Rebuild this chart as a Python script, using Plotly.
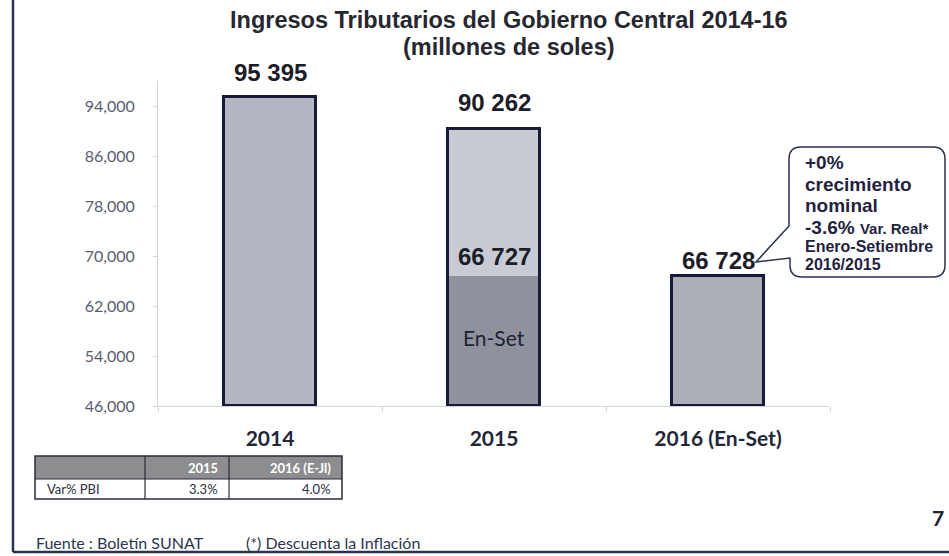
import plotly.graph_objects as go

# ---------------- data ----------------
categories = ["2014", "2015", "2016 (En-Set)"]
totals = [95395, 90262, 66728]
enset_2015 = 66727
enset_label = "En-Set"
y_ticks = [46000, 54000, 62000, 70000, 78000, 86000, 94000]
y_floor = 46000
y_top = 98000

table_header = ["", "2015", "2016 (E-Jl)"]
table_row_label = "Var% PBI"
pbi_var = [3.3, 4.0]

title_line1 = "Ingresos Tributarios del Gobierno Central 2014-16"
title_line2 = "(millones de soles)"
callout_big = ["+0%", "crecimiento", "nominal"]
callout_mixed = ("-3.6% ", "Var. Real*")
callout_small = ["Enero-Setiembre", "2016/2015"]
footer_source = "Fuente : Boletín SUNAT"
footer_note = "(*) Descuenta la Inflación"
page_number = "7"

# ---------------- styling ----------------
W, H = 949, 556
ARIAL = "Liberation Sans, Arial, sans-serif"
CAL = "Lato, Carlito, Calibri, sans-serif"
NAVY = "#151b38"
TXT = "#1c1d28"


def px(x):
    return x / W


def py(y):
    return 1 - y / H


def fmt(v):
    return f"{v:,}".replace(",", " ")


fig = go.Figure()

bar_colors = ["#b4b7c1", "#c8cbd4", "#acafb8"]
bar_width = 0.41

fig.add_trace(go.Bar(
    x=categories, y=[v - y_floor for v in totals], base=y_floor,
    width=bar_width, marker=dict(color=bar_colors, line=dict(width=0)),
    customdata=totals, hovertemplate="%{x}: %{customdata:,}<extra></extra>",
    showlegend=False,
))
fig.add_trace(go.Bar(
    x=[categories[1]], y=[enset_2015 - y_floor], base=y_floor,
    width=bar_width, marker=dict(color="#8f929c", line=dict(width=0)),
    customdata=[enset_2015], hovertemplate="En-Set: %{customdata:,}<extra></extra>",
    showlegend=False,
))
fig.add_trace(go.Bar(
    x=categories, y=[v - y_floor for v in totals], base=y_floor,
    width=bar_width, marker=dict(color="rgba(0,0,0,0)", line=dict(color=NAVY, width=3)),
    hoverinfo="skip", showlegend=False,
))

annotations = []
# value labels above bars (category index used as x position)
label_shift = [9, 11, 0]
for i, (v, s) in enumerate(zip(totals, label_shift)):
    annotations.append(dict(
        x=i, y=v, xref="x", yref="y", text=f"<b>{fmt(v)}</b>", showarrow=False,
        yanchor="bottom", yshift=s, font=dict(family=ARIAL, size=24, color=TXT),
    ))
annotations.append(dict(
    x=1, y=enset_2015, xref="x", yref="y", text=f"<b>{fmt(enset_2015)}</b>",
    showarrow=False, yanchor="bottom", yshift=4, font=dict(family=ARIAL, size=24, color=TXT),
))
annotations.append(dict(
    x=1, y=(y_floor + enset_2015) / 2, xref="x", yref="y", text=enset_label,
    showarrow=False, yanchor="middle", yshift=4, font=dict(family=CAL, size=21, color="#1f2235"),
))

# title
annotations.append(dict(x=px(509), y=py(20), xref="paper", yref="paper", text=f"<b>{title_line1}</b>",
                        showarrow=False, xanchor="center", yanchor="middle",
                        font=dict(family=ARIAL, size=23.5, color="#26272f")))
annotations.append(dict(x=px(509), y=py(47), xref="paper", yref="paper", text=f"<b>{title_line2}</b>",
                        showarrow=False, xanchor="center", yanchor="middle",
                        font=dict(family=ARIAL, size=23.5, color="#26272f")))

# callout text
CALL = "#1f2340"
big_y = [163, 185, 206]
for t, yy in zip(callout_big, big_y):
    annotations.append(dict(x=px(803), y=py(yy), xref="paper", yref="paper", text=f"<b>{t}</b>",
                            showarrow=False, xanchor="left", yanchor="middle",
                            font=dict(family=ARIAL, size=19, color=CALL)))
annotations.append(dict(x=px(803), y=py(227), xref="paper", yref="paper",
                        text=f"<b>{callout_mixed[0]}<span style='font-size:15px'>{callout_mixed[1]}</span></b>",
                        showarrow=False, xanchor="left", yanchor="middle",
                        font=dict(family=ARIAL, size=19, color=CALL)))
for t, yy in zip(callout_small, [246, 265]):
    annotations.append(dict(x=px(803), y=py(yy), xref="paper", yref="paper", text=f"<b>{t}</b>",
                            showarrow=False, xanchor="left", yanchor="middle",
                            font=dict(family=ARIAL, size=16, color=CALL)))

# table (drawn with shapes + text from the table lists)
col_edges = [35, 145, 229, 342]
row_edges = [456, 479, 499]
TBL_LINE = "#2a2d3a"
shapes = [
    dict(type="rect", x0=px(col_edges[0]), x1=px(col_edges[-1]), y0=py(row_edges[0]), y1=py(row_edges[1]),
         xref="paper", yref="paper", fillcolor="#8d8d90", line=dict(width=0), layer="above"),
    dict(type="rect", x0=px(col_edges[0]), x1=px(col_edges[-1]), y0=py(row_edges[0]), y1=py(row_edges[-1]),
         xref="paper", yref="paper", fillcolor="rgba(0,0,0,0)", line=dict(color=TBL_LINE, width=1.5), layer="above"),
    dict(type="line", x0=px(col_edges[0]), x1=px(col_edges[-1]), y0=py(row_edges[1]), y1=py(row_edges[1]),
         xref="paper", yref="paper", line=dict(color=TBL_LINE, width=1.2), layer="above"),
]
for cx in col_edges[1:-1]:
    shapes.append(dict(type="line", x0=px(cx), x1=px(cx), y0=py(row_edges[0]), y1=py(row_edges[-1]),
                       xref="paper", yref="paper", line=dict(color=TBL_LINE, width=1.2), layer="above"))
hy = (row_edges[0] + row_edges[1]) / 2
ry = (row_edges[1] + row_edges[2]) / 2
for j, h in enumerate(table_header):
    if h:
        annotations.append(dict(x=px(col_edges[j + 1] - 9), y=py(hy), xref="paper", yref="paper",
                                text=f"<b>{h}</b>", showarrow=False, xanchor="right", yanchor="middle",
                                font=dict(family=CAL, size=13, color="white")))
annotations.append(dict(x=px(col_edges[0] + 10), y=py(ry), xref="paper", yref="paper",
                        text=table_row_label, showarrow=False, xanchor="left", yanchor="middle",
                        font=dict(family=CAL, size=13, color="#2b2e3c")))
for j, v in enumerate(pbi_var):
    annotations.append(dict(x=px(col_edges[j + 2] - 9), y=py(ry), xref="paper", yref="paper",
                            text=f"{v:.1f}%", showarrow=False, xanchor="right", yanchor="middle",
                            font=dict(family=CAL, size=13, color="#2b2e3c")))

# footer
for t, xx in [(footer_source, 34), (footer_note, 244)]:
    annotations.append(dict(x=px(xx), y=py(554), xref="paper", yref="paper", text=t,
                            showarrow=False, xanchor="left", yanchor="bottom",
                            font=dict(family=CAL, size=16, color="#2e3550")))
annotations.append(dict(x=px(938), y=py(517), xref="paper", yref="paper", text=f"<b>{page_number}</b>",
                        showarrow=False, xanchor="center", yanchor="middle",
                        font=dict(family=CAL, size=21, color="#1f2235")))

# callout bubble path (pixel points -> paper)
pts = [("M", 801, 147), ("L", 933, 147), ("Q", 945, 147, 945, 159), ("L", 945, 265),
       ("Q", 945, 277, 933, 277), ("L", 802, 277), ("Q", 790, 277, 790, 265),
       ("L", 790, 258), ("L", 756, 262), ("L", 789, 226), ("L", 789, 159),
       ("Q", 789, 147, 801, 147)]
path = ""
for p in pts:
    cmd = p[0]
    coords = p[1:]
    seg = []
    for i in range(0, len(coords), 2):
        seg.append(f"{px(coords[i]):.5f},{py(coords[i+1]):.5f}")
    path += cmd + " " + " ".join(seg) + " "
path += "Z"

shapes += [
    dict(type="path", path=path, xref="paper", yref="paper",
         line=dict(color="#2b3150", width=1.5), fillcolor="white", layer="below"),
    dict(type="line", x0=px(13), x1=px(13), y0=py(0), y1=py(552), xref="paper", yref="paper",
         line=dict(color="#2b3150", width=2.5)),
    dict(type="line", x0=px(13), x1=px(949), y0=py(552), y1=py(552), xref="paper", yref="paper",
         line=dict(color="#2b3150", width=2.5)),
]

fig.update_layout(
    width=W, height=H, autosize=False,
    margin=dict(l=0, r=0, t=0, b=0, pad=0, autoexpand=False),
    paper_bgcolor="white", plot_bgcolor="white",
    barmode="overlay", bargap=0,
    showlegend=False,
    annotations=annotations, shapes=shapes,
    xaxis=dict(
        type="category", domain=[px(158), px(830)], range=[-0.5, 2.5],
        automargin=False,
        showline=True, linecolor="#d3d6de", linewidth=1,
        ticks="outside", tickson="boundaries", ticklen=5, tickcolor="#d3d6de",
        tickfont=dict(family=CAL, size=21, color="#23263a"),
        ticklabelstandoff=14, showgrid=False, zeroline=False,
        tickprefix="<b>", ticksuffix="</b>",
    ),
    yaxis=dict(
        domain=[py(406), py(81)], range=[y_floor, y_top],
        automargin=False,
        tickvals=y_ticks, tickformat=",d",
        showline=True, linecolor="#d3d6de", linewidth=1,
        ticks="outside", ticklen=4, tickcolor="#d3d6de",
        tickfont=dict(family=CAL, size=16, color="#595d6e"),
        ticklabelstandoff=15, showgrid=False, zeroline=False,
    ),
)

fig.write_html(
    "out.html",
    config={"displayModeBar": False},
    post_script="document.body.style.margin='0';document.body.style.overflow='hidden';",
)
